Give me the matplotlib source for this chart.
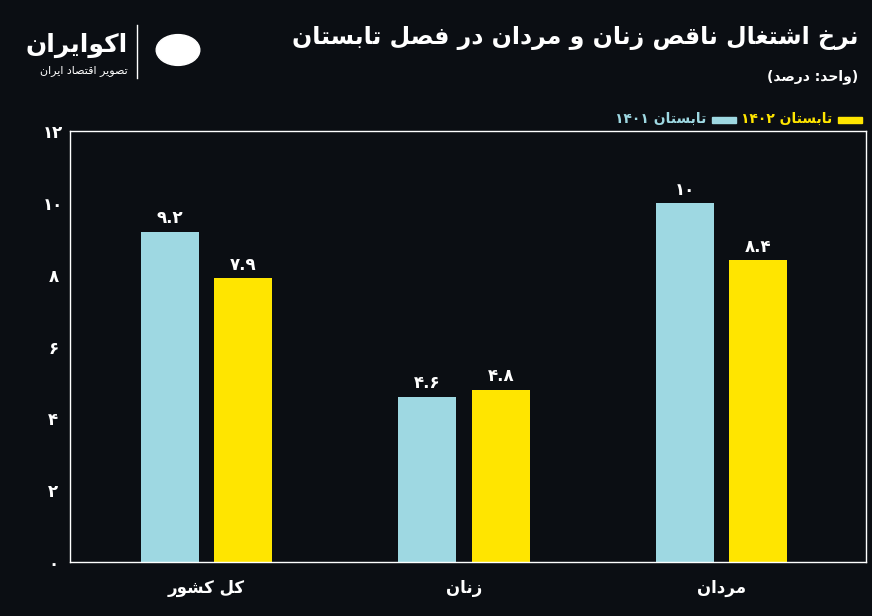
import re
import matplotlib
matplotlib.use('Agg')
import matplotlib.pyplot as plt
from matplotlib.patches import Rectangle

# ----------------------------------------------------------------------------
# Data
# ----------------------------------------------------------------------------
categories = ["کل کشور", "زنان", "مردان"]
series_1401 = [9.2, 4.6, 10.0]
series_1402 = [7.9, 4.8, 8.4]
labels_1401 = ["۹.۲", "۴.۶", "۱۰"]
labels_1402 = ["۷.۹", "۴.۸", "۸.۴"]
y_ticks = [0, 2, 4, 6, 8, 10, 12]
y_tick_labels = ["۰", "۲", "۴", "۶", "۸", "۱۰", "۱۲"]
legend_labels = ["تابستان ۱۴۰۲", "تابستان ۱۴۰۱"]
title = "نرخ اشتغال ناقص زنان و مردان در فصل تابستان"
unit = "(واحد: درصد)"

# ----------------------------------------------------------------------------
# minimal Persian shaping (presentation forms, visual order)
# ----------------------------------------------------------------------------
FORMS = {
    'ا': (0xFE8D, 0xFE8E, None, None), 'ب': (0xFE8F, 0xFE90, 0xFE91, 0xFE92),
    'ت': (0xFE95, 0xFE96, 0xFE97, 0xFE98), 'ح': (0xFEA1, 0xFEA2, 0xFEA3, 0xFEA4),
    'خ': (0xFEA5, 0xFEA6, 0xFEA7, 0xFEA8), 'د': (0xFEA9, 0xFEAA, None, None),
    'ر': (0xFEAD, 0xFEAE, None, None), 'ز': (0xFEAF, 0xFEB0, None, None),
    'س': (0xFEB1, 0xFEB2, 0xFEB3, 0xFEB4), 'ش': (0xFEB5, 0xFEB6, 0xFEB7, 0xFEB8),
    'ص': (0xFEB9, 0xFEBA, 0xFEBB, 0xFEBC), 'غ': (0xFECD, 0xFECE, 0xFECF, 0xFED0),
    'ف': (0xFED1, 0xFED2, 0xFED3, 0xFED4), 'ق': (0xFED5, 0xFED6, 0xFED7, 0xFED8),
    'ل': (0xFEDD, 0xFEDE, 0xFEDF, 0xFEE0), 'م': (0xFEE1, 0xFEE2, 0xFEE3, 0xFEE4),
    'ن': (0xFEE5, 0xFEE6, 0xFEE7, 0xFEE8), 'و': (0xFEED, 0xFEEE, None, None),
    'ک': (0xFB8E, 0xFB8F, 0xFB90, 0xFB91), 'ی': (0xFBFC, 0xFBFD, 0xFBFE, 0xFBFF),
    'ه': (0xFEE9, 0xFEEA, 0xFEEB, 0xFEEC),
}


def fa(text):
    out = []
    n = len(text)
    for i, ch in enumerate(text):
        if ch not in FORMS:
            out.append(ch)
            continue
        prev = text[i - 1] if i > 0 else ''
        nxt = text[i + 1] if i < n - 1 else ''
        joins_prev = prev in FORMS and FORMS[prev][2] is not None
        joins_next = nxt in FORMS and FORMS[ch][2] is not None
        iso, fin, ini, med = FORMS[ch]
        if joins_prev and joins_next:
            out.append(chr(med))
        elif joins_prev:
            out.append(chr(fin))
        elif joins_next:
            out.append(chr(ini))
        else:
            out.append(chr(iso))
    s = ''.join(out)[::-1]
    s = s.translate(str.maketrans('()', ')('))
    s = re.sub(r'[۰-۹.]+', lambda m: m.group(0)[::-1], s)
    return s


plt.rcParams['font.family'] = ['DejaVu Sans']
bg = '#0b0e13'
blue = '#9ed8e2'
yellow = '#ffe500'

fig = plt.figure(figsize=(8.72, 6.16), dpi=100, facecolor=bg)
ax = fig.add_axes([70 / 872, 1 - 562 / 616, 796 / 872, 431 / 616], facecolor=bg)

x = [0, 1, 2]
w = 0.225
gap = 0.03
ax.bar([i - w / 2 - gap for i in x], series_1401, width=w, color=blue)
ax.bar([i + w / 2 + gap for i in x], series_1402, width=w, color=yellow)
for i in x:
    ax.text(i - w / 2 - gap, series_1401[i] + 0.12, labels_1401[i], color='white',
            ha='center', va='bottom', fontsize=12, fontweight='bold')
    ax.text(i + w / 2 + gap, series_1402[i] + 0.12, labels_1402[i], color='white',
            ha='center', va='bottom', fontsize=12, fontweight='bold')

ax.set_xlim(-0.53, 2.56)
ax.set_ylim(0, 12)
ax.set_yticks(y_ticks)
ax.set_yticklabels(y_tick_labels, color='white', fontsize=12, fontweight='bold', ha='center')
ax.set_xticks(x)
ax.set_xticklabels([fa(c) for c in categories], color='white', fontsize=12, fontweight='bold')
ax.tick_params(axis='x', length=0, pad=12)
ax.tick_params(axis='y', length=0, pad=12)
for s in ax.spines.values():
    s.set_color('white')
    s.set_linewidth(1)

# title and notes
fig.text(858 / 872, 1 - 38 / 616, fa(title), color='white', ha='right', va='center',
         fontsize=17, fontweight='bold')
fig.text(858 / 872, 1 - 77 / 616, fa(unit), color='white', ha='right', va='center',
         fontsize=10, fontweight='bold')

# legend
fig.patches.append(Rectangle((838 / 872, 1 - 123 / 616), 24 / 872, 6 / 616,
                             transform=fig.transFigure, color=yellow))
fig.text(832 / 872, 1 - 119 / 616, fa(legend_labels[0]), color=yellow, ha='right',
         va='center', fontsize=10, fontweight='bold')
fig.patches.append(Rectangle((712 / 872, 1 - 123 / 616), 24 / 872, 6 / 616,
                             transform=fig.transFigure, color=blue))
fig.text(706 / 872, 1 - 119 / 616, fa(legend_labels[1]), color=blue, ha='right',
         va='center', fontsize=10, fontweight='bold')

# logo
fig.text(128 / 872, 1 - 45 / 616, fa("اکوایران"), color='white', ha='right',
         va='center', fontsize=18, fontweight='bold')
fig.text(128 / 872, 1 - 71 / 616, fa("تصویر اقتصاد ایران"), color='white', ha='right',
         va='center', fontsize=8)
fig.lines.append(plt.Line2D([137 / 872, 137 / 872], [1 - 25 / 616, 1 - 78 / 616],
                            transform=fig.transFigure, color='white', lw=1))
fig.patches.append(plt.Circle((178 / 872, 1 - 50 / 616), 0.025, transform=fig.transFigure,
                              color='white'))

fig.savefig('out.png', dpi=100, facecolor=bg)
